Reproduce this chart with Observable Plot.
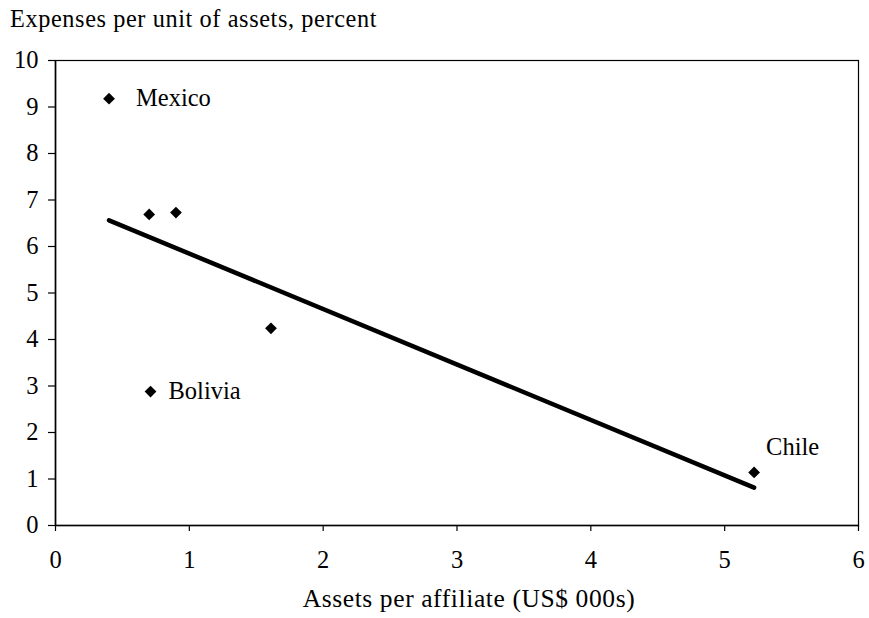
<!DOCTYPE html>
<html>
<head>
<meta charset="utf-8">
<script src="https://cdn.jsdelivr.net/npm/d3@7"></script>
<script src="https://cdn.jsdelivr.net/npm/@observablehq/plot@0.6"></script>
<style>
  body { margin: 0; background: #fff; }
  #wrap { position: relative; width: 869px; height: 618px; font-family: "Liberation Serif", serif; }
  #title { position: absolute; left: 10px; top: 5px; font-size: 24.3px; letter-spacing: 0.6px; color: #000; white-space: nowrap; }
  #xlabel { position: absolute; left: 0; width: 938px; text-align: center; top: 584px; font-size: 25.5px; letter-spacing: 0.6px; color: #000; white-space: nowrap; }
</style>
</head>
<body>
<div id="wrap">
  <div id="chart"></div>
  <div id="title">Expenses per unit of assets, percent</div>
  <div id="xlabel">Assets per affiliate (US$ 000s)</div>
</div>
<script>
const countries = ["Mexico", "", "", "", "Bolivia", "Chile"];
const assets = [0.40, 0.70, 0.90, 1.61, 0.71, 5.22];
const expenses = [9.18, 6.69, 6.73, 4.24, 2.88, 1.14];
const xTicks = [0, 1, 2, 3, 4, 5, 6];
const yTicks = [0, 1, 2, 3, 4, 5, 6, 7, 8, 9, 10];

const data = countries.map((c, i) => ({country: c, x: assets[i], y: expenses[i]}));
const named = name => data.filter(d => d.country === name);

const chart = Plot.plot({
  width: 869,
  height: 618,
  marginLeft: 55,
  marginRight: 11,
  marginTop: 60,
  marginBottom: 93,
  style: {fontFamily: "Liberation Serif, serif", fontSize: "24px", color: "#000", background: "#fff", overflow: "visible"},
  x: {domain: [0, 6], label: null},
  y: {domain: [0, 10], label: null},
  marks: [
    Plot.frame({stroke: "#000", strokeWidth: 1.2}),
    Plot.axisY({ticks: yTicks, tickFormat: "d", tickSize: 7, tickPadding: 10, label: null, strokeWidth: 1.2, fontSize: 24.5}),
    Plot.axisX({ticks: xTicks, tickFormat: "d", tickSize: 6, tickPadding: 19, label: null, strokeWidth: 1.2, fontSize: 24.5}),
    Plot.ruleX([0], {stroke: "#000", strokeWidth: 1.6}),
    Plot.ruleY([0], {stroke: "#000", strokeWidth: 1.6}),
    Plot.linearRegressionY(data, {x: "x", y: "y", ci: 0, stroke: "#000", strokeWidth: 4.5}),
    Plot.dot(data, {x: "x", y: "y", symbol: "diamond2", r: 5.3, fill: "#000", stroke: "none"}),
    Plot.text(named("Mexico"), {x: "x", y: "y", text: "country", dx: 27, textAnchor: "start", fontSize: 24.5}),
    Plot.text(named("Bolivia"), {x: "x", y: "y", text: "country", dx: 18, textAnchor: "start", fontSize: 24.5}),
    Plot.text(named("Chile"), {x: "x", y: "y", text: "country", dx: 12, dy: -25, textAnchor: "start", fontSize: 24.5})
  ]
});
document.getElementById("chart").appendChild(chart);
</script>
</body>
</html>
